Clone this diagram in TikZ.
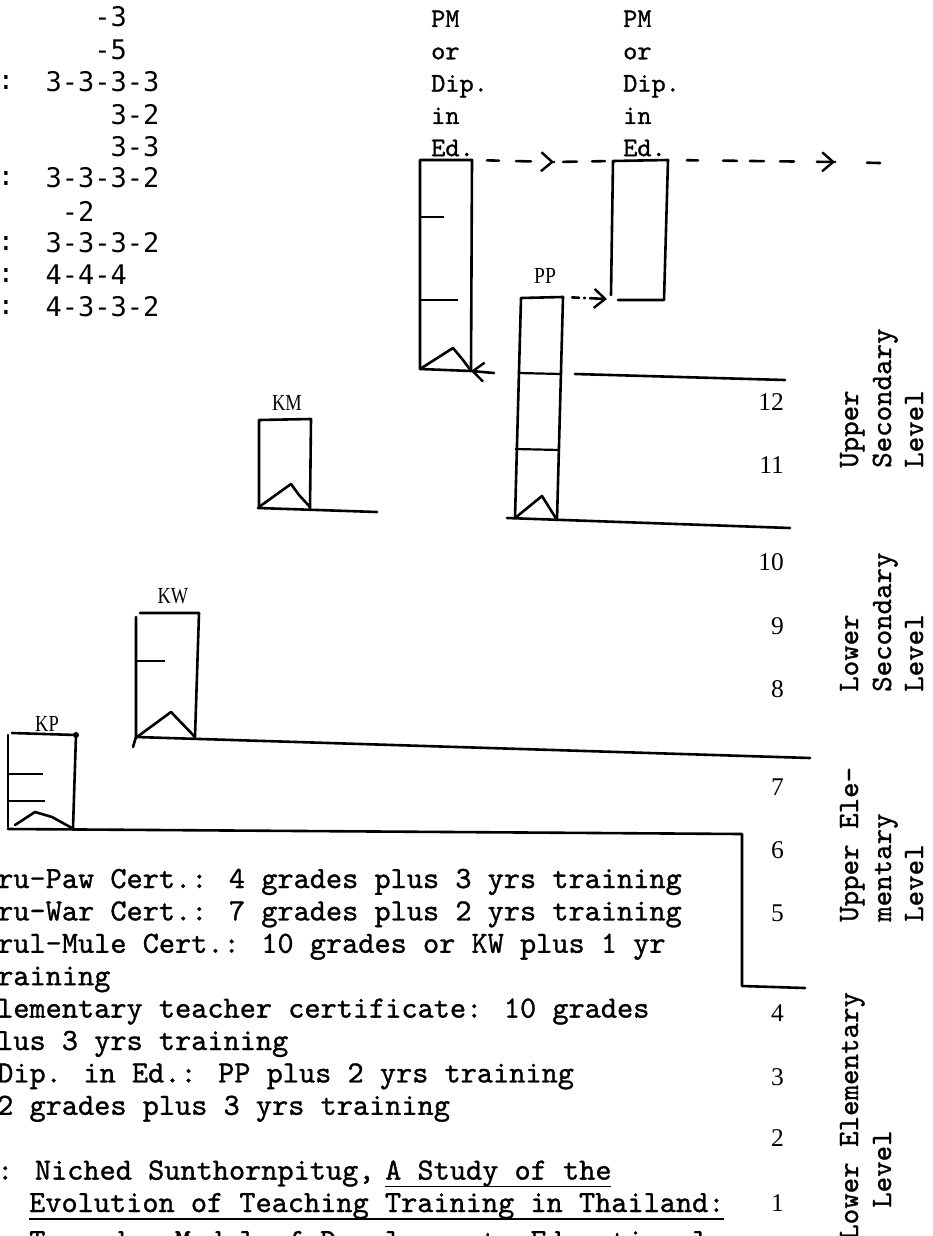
\documentclass[tikz,border=0pt]{standalone}
\usepackage{fontspec}
\usepackage{graphicx}
\usetikzlibrary{arrows.meta}
\newfontfamily\dsm{DejaVu Sans Mono}
\newfontfamily\lser{Liberation Serif}
\newfontfamily\twr{lmmono10-regular.otf}[FakeBold=1]
\tikzset{
  ln/.style={line width=2.6pt, line join=round, line cap=round},
  tickln/.style={line width=2.2pt},
  ulin/.style={line width=1.6pt},
  barb/.style={-{Straight Barb[length=11pt,width=19pt,line width=2.4pt]}},
  lbl/.style={inner sep=0pt, font=\lser\fontsize{23}{23}\selectfont},
  grade/.style={inner sep=0pt, anchor=east, font=\lser\fontsize{25.5}{25.5}\selectfont},
  tl/.style={inner sep=0pt, anchor=west, font=\dsm\fontsize{27}{27}\selectfont},
  colon/.style={inner sep=0pt, font=\dsm\fontsize{27}{27}\selectfont},
  pmtxt/.style={inner sep=0pt, anchor=base west, font=\twr\fontsize{27}{27}\selectfont},
  lev/.style={inner sep=0pt, anchor=base west, rotate=90, font=\twr\fontsize{29.5}{29.5}\selectfont},
  bt/.style={inner sep=0pt, anchor=base west, font=\twr\fontsize{30.8}{30.8}\selectfont},
}
\begin{document}
\begin{tikzpicture}[x=1pt,y=-1pt]
\useasboundingbox[fill=white] (0,0) rectangle (933,1236);

% ---------- top-left figures ----------
\node[tl] (f1) at (94.25,17) {-3};
\node[tl] (f2) at (94.25,50) {-5};
\node[colon] (k3) at (6,82) {:};
\node[tl] (f3) at (45.5,82) {3-3-3-3};
\node[tl] (f4) at (110.5,115) {3-2};
\node[tl] (f5) at (110.5,147) {3-3};
\node[colon] (k6) at (6,178) {:};
\node[tl] (f6) at (45.5,178) {3-3-3-2};
\node[tl] (f7) at (61.75,211) {-2};
\node[colon] (k8) at (6,243) {:};
\node[tl] (f8) at (45.5,243) {3-3-3-2};
\node[colon] (k9) at (6,275) {:};
\node[tl] (f9) at (45.5,275) {4-4-4};
\node[colon] (k10) at (6,307) {:};
\node[tl] (f10) at (45.5,307) {4-3-3-2};

% ---------- PM or Dip. in Ed. ----------
\foreach \t [count=\i from 0] in {PM,or,Dip.,in,Ed.} {
  \node[pmtxt] (pma\i) at (431,{27+32.3*\i}) {\t};
  \node[pmtxt] (pmb\i) at (623,{27+32.3*\i}) {\t};
}

% ---------- box 1 (PM left) ----------
\coordinate (b1nw) at (420,160);
\coordinate (b1ne) at (472,160);
\coordinate (b1sw) at (420,369);
\coordinate (b1se) at (471,371);
\draw[ln] (b1sw) -- (b1nw) -- (b1ne) -- (b1se) -- cycle;
\draw[tickln] (420,217) -- (444,217);
\draw[tickln] (420,300) -- (458,300);
\draw[ln] (b1sw) -- (453,348) -- (463,360) -- (b1se);
\coordinate (a1) at (494,373);
\draw[ln,barb] (a1) -- (b1se);

% ---------- box 2 (PM right) ----------
\coordinate (b2nw) at (613,161);
\coordinate (b2ne) at (668,160);
\draw[ln] (611,295) -- (b2nw) -- (b2ne) -- (664,300) -- (618,300);

% ---------- dashed connectors ----------
\coordinate (m1) at (554,162);
\coordinate (m2) at (835,162);
\coordinate (e2) at (880,163);
\draw[ln,dash pattern=on 0pt off 15pt on 12pt off 17pt on 15pt off 20pt on 30pt,barb] (b1ne) -- (m1);
\draw[ln,dash pattern=on 0pt off 9pt on 14pt off 15pt on 13pt off 30pt] (m1) -- (b2nw);
\draw[ln,dash pattern=on 0pt off 19pt on 11pt off 25pt on 14pt off 13pt on 14pt off 16pt on 14pt off 23pt on 30pt,barb] (b2ne) -- (m2);
\draw[ln,dash pattern=on 0pt off 32pt on 14pt off 30pt] (m2) -- (e2);

% ---------- PP box ----------
\node[lbl] (pp) at (545,276) {\scalebox{0.85}[1]{PP}};
\coordinate (ppnw) at (521,298);
\coordinate (ppne) at (563,297);
\coordinate (ppsw) at (515,518);
\coordinate (ppse) at (557,520);
\draw[ln] (ppsw) -- (ppnw) -- (ppne) -- (ppse);
\draw[tickln] (518,373) -- (562,374);
\draw[tickln] (515,449) -- (560,450);
\draw[ln] (ppsw) -- (542,496) -- (552,512) -- (ppse);
\coordinate (b2sw) at (607,299);
\draw[ln,dash pattern=on 0pt off 9pt on 7pt off 5pt on 1pt off 5pt on 30pt,barb] (ppne) -- (b2sw);

% ---------- KM box ----------
\node[lbl] (km) at (287,403) {\scalebox{0.8}[1]{KM}};
\draw[ln] (259,508) -- (259,420) -- (311,419) -- (310,508);
\draw[ln] (259,507) -- (291,484) -- (299,495) -- (310,507);
\draw[ln] (258,508) -- (377,512);

% ---------- KW box ----------
\node[lbl] (kw) at (173,596) {\scalebox{0.8}[1]{KW}};
\draw[ln] (133,747) -- (136,737) -- (136,617);
\draw[ln] (140,613) -- (199,613) -- (195,737);
\draw[tickln] (136,661) -- (165,661);
\draw[ln] (137,737) -- (171,712) -- (195,737);

% ---------- KP box ----------
\node[lbl] (kp) at (47,724) {\scalebox{0.8}[1]{KP}};
\draw[ln] (8,827) -- (8,735);
\draw[ln] (12,733) -- (76,735) -- (73,828);
\fill (76,735) circle (3pt);
\draw[tickln] (8,774) -- (43,774);
\draw[tickln] (8,801) -- (45,801);
\draw[ln] (15,825) -- (35,812) -- (52,817) -- (72,828);

% ---------- level lines ----------
\draw[ln] (575,374) -- (785,380);
\draw[ln] (507,518) -- (790,528);
\draw[ln] (136,737) -- (810,758);
\draw[ln] (8,829) -- (742,834) -- (742,986) -- (805,988);

% ---------- grade numbers ----------
\node[grade] (g12) at (784,402) {12};
\node[grade] (g11) at (784,465) {11};
\node[grade] (g10) at (784,562) {10};
\node[grade] (g9) at (784,626) {9};
\node[grade] (g8) at (784,689) {8};
\node[grade] (g7) at (784,787) {7};
\node[grade] (g6) at (784,850) {6};
\node[grade] (g5) at (784,913) {5};
\node[grade] (g4) at (784,1013) {4};
\node[grade] (g3) at (784,1077) {3};
\node[grade] (g2) at (784,1138) {2};
\node[grade] (g1) at (784,1203) {1};

% ---------- level labels ----------
\node[lev] (us1) at (858,468) {Upper};
\node[lev] (us2) at (891,468) {Secondary};
\node[lev] (us3) at (923,468) {Level};
\node[lev] (ls1) at (858,692) {Lower};
\node[lev] (ls2) at (891,692) {Secondary};
\node[lev] (ls3) at (923,692) {Level};
\node[lev] (ue1) at (858,922) {Upper Ele-};
\node[lev] (ue2) at (891,922) {mentary};
\node[lev] (ue3) at (923,922) {Level};
\node[lev] (le1) at (858,1240) {Lower Elementary};
\node[lev] (le2) at (891,1208) {Level};

% ---------- bottom legend ----------
\node[bt] (t0) at (-3,888) {ru-Paw Cert.: 4 grades plus 3 yrs training};
\node[bt] (t1) at (-3,920.4) {ru-War Cert.: 7 grades plus 2 yrs training};
\node[bt] (t2) at (-3,952.8) {rul-Mule Cert.: 10 grades or KW plus 1 yr};
\node[bt] (t3) at (-3,985.2) {raining};
\node[bt] (t4) at (-3,1017.6) {lementary teacher certificate: 10 grades};
\node[bt] (t5) at (-3,1050) {lus 3 yrs training};
\node[bt] (t6) at (-3,1082.4) {Dip. in Ed.: PP plus 2 yrs training};
\node[bt] (t7) at (-3,1114.8) {2 grades plus 3 yrs training};
\node[bt] (t9) at (-3,1179.6) {: Niched Sunthornpitug,};
\node[bt] (t9b) at (385,1179.6) {A Study of the};
\node[bt] (t10) at (29,1212) {Evolution of Teaching Training in Thailand:};
\node[bt] (t11) at (29,1250) {Toward a Model of Development, Educational};
\draw[ulin] (t9b.base west) ++(0,7) -- ++(226,0);
\draw[ulin] (t10.base west) ++(0,7) -- ++(695,0);
\end{tikzpicture}
\end{document}
